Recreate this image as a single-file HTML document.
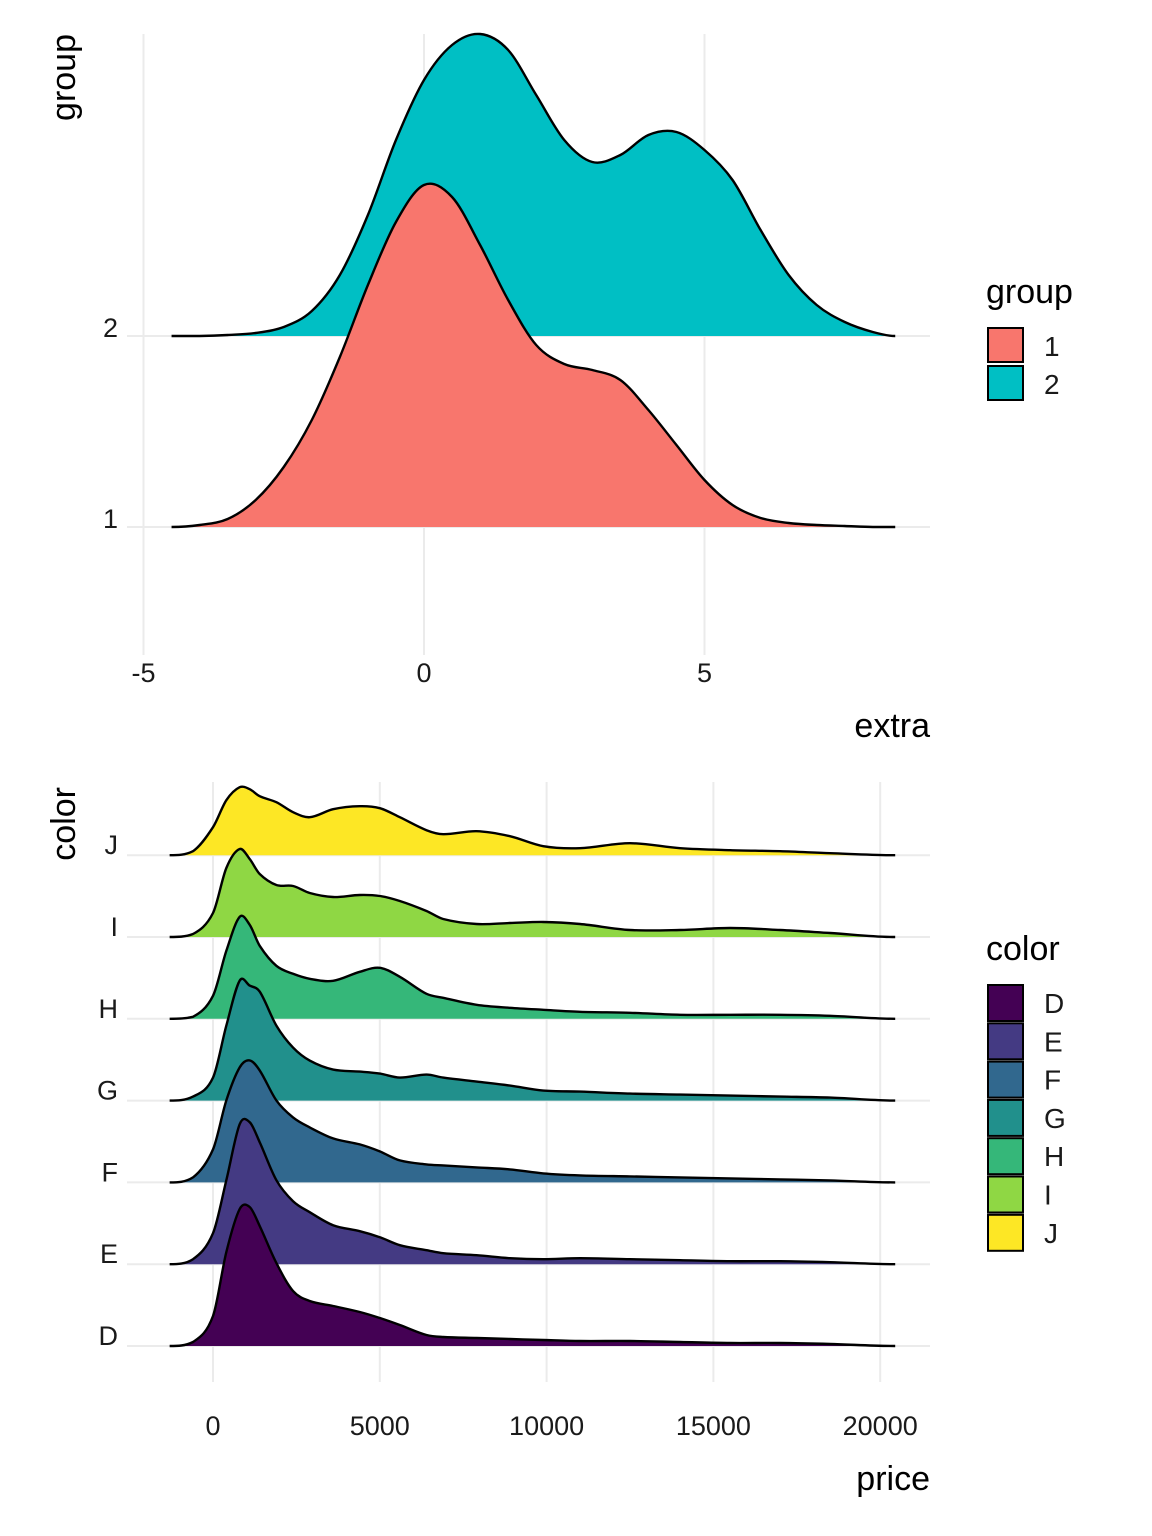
<!DOCTYPE html>
<html><head><meta charset="utf-8"><style>
html,body{margin:0;padding:0;background:#fff;}
svg{display:block;font-family:"Liberation Sans",sans-serif;}
</style></head><body>
<svg id="chart" width="1152" height="1536" viewBox="0 0 1152 1536">
<g id="top"></g>
<g id="bottom"></g>
</svg>
<script>
// ---- top chart data ----
const topGroups = ["1","2"];
const topColors = ["#F8766D","#00BFC4"];
const topX = [-4.5,-4,-3.5,-3,-2.5,-2,-1.5,-1,-0.5,0,0.5,1,1.5,2,2.5,3,3.5,4,4.5,5,5.5,6,6.5,7,7.5,8,8.4];
const topDensity1 = [0,2,8,27,60,107,170,242,305,342,330,282,227,182,163,157,147,117,82,47,22,9,4,2,1,0,0];
const topDensity2 = [0,0,1,3,9,25,61,121,196,256,291,302,286,241,196,174,181,201,204,186,156,106,61,31,14,4,0];
const topXTicks = [-5,0,5];
// ---- bottom chart data ----
const colorCats = ["D","E","F","G","H","I","J"];
const colorFills = ["#440154","#443A83","#31688E","#21908C","#35B779","#8FD744","#FDE725"];
const priceGrid = [-1300,-600,0,400,800,1100,1400,1900,2400,2900,3600,4400,5000,5600,6400,6900,7900,8900,9900,11000,12500,14000,15500,17000,18500,20450];
const densD = [0,4,30,94,137,139,120,83,55,45,40,34,28,21,11,9,8,7,6,5,5,4,3,3,2,0];
const densE = [0,5,31,84,140,142,122,84,63,52,39,33,27,19,14,11,9,6,5,6,5,4,3,3,2,0];
const densF = [0,5,33,82,115,122,112,82,65,55,44,38,31,22,18,17,15,13,9,7,6,5,4,3,2,0];
const densG = [0,4,23,75,120,115,109,75,53,40,31,29,27,23,26,23,19,15,10,9,7,6,5,4,3,0];
const densH = [0,2,23,68,102,94,73,53,45,40,38,47,51,42,25,21,14,11,9,7,6,4,4,4,3,0];
const densI = [0,3,24,69,88,78,63,52,51,44,40,42,41,36,26,18,13,14,15,13,7,7,9,7,4,0];
const densJ = [0,4,28,55,68,66,59,53,43,38,46,49,47,38,25,21,24,19,9,7,12,7,5,4,2,0];
const priceTicks = [0,5000,10000,15000,20000];

const NS="http://www.w3.org/2000/svg";
function mk(parent,tag,attrs,text){const e=document.createElementNS(NS,tag);for(const k in attrs)e.setAttribute(k,attrs[k]);if(text!==undefined)e.textContent=text;parent.appendChild(e);return e;}
// non-uniform Catmull-Rom style tangents, clamped to baseline
function smoothPath(pts,base){
  const n=pts.length,m=[];
  for(let i=0;i<n;i++){
    const a=pts[Math.max(0,i-1)],b=pts[Math.min(n-1,i+1)];
    m[i]=(b[1]-a[1])/(b[0]-a[0]);
  }
  m[0]=0;m[n-1]=0;
  let d="M"+pts[0][0].toFixed(2)+","+pts[0][1].toFixed(2);
  for(let i=0;i<n-1;i++){
    const h=(pts[i+1][0]-pts[i][0])/3;
    const y1=Math.min(base,pts[i][1]+m[i]*h),y2=Math.min(base,pts[i+1][1]-m[i+1]*h);
    d+="C"+(pts[i][0]+h).toFixed(2)+","+y1.toFixed(2)+" "+(pts[i+1][0]-h).toFixed(2)+","+y2.toFixed(2)+" "+pts[i+1][0].toFixed(2)+","+pts[i+1][1].toFixed(2);
  }
  return d;
}
// ---- top panel ----
const T=document.getElementById("top");
const tx=v=>424+v*56.1;
const topBase=[527,336];
topXTicks.forEach(v=>{const l=mk(T,"line",{x1:tx(v),x2:tx(v),y1:34,y2:655,stroke:"#ebebeb","stroke-width":2});

});
topBase.forEach(b=>{const l=mk(T,"line",{x1:127,x2:930,y1:b,y2:b,stroke:"#ebebeb","stroke-width":2});

});
const topSeries=[topDensity1,topDensity2];
[1,0].forEach(gi=>{
  const pts=topX.map((x,i)=>[tx(x),topBase[gi]-topSeries[gi][i]]);
  const line=smoothPath(pts,topBase[gi]);
  const f=mk(T,"path",{d:line+"L"+pts[pts.length-1][0]+","+topBase[gi]+"L"+pts[0][0]+","+topBase[gi]+"Z",fill:topColors[gi],stroke:"none"});
  
  
  const s=mk(T,"path",{d:line,fill:"none",stroke:"#000","stroke-width":2.4});
  
  
});
topXTicks.forEach(v=>{const t=mk(T,"text",{x:tx(v),y:682,"text-anchor":"middle","font-size":27,fill:"#1a1a1a"},String(v));

});
topGroups.forEach((g,i)=>{const t=mk(T,"text",{x:118,y:topBase[i]+1,"text-anchor":"end","font-size":27,fill:"#1a1a1a"},g);

});
let t1=mk(T,"text",{x:930,y:737,"text-anchor":"end","font-size":34,fill:"#000"},"extra");


let t2=mk(T,"text",{x:0,y:0,transform:"translate(75,34) rotate(-90)","text-anchor":"end","font-size":34,fill:"#000"},"group");


let lt=mk(T,"text",{x:986,y:303,"font-size":34,fill:"#000"},"group");


topGroups.forEach((g,i)=>{
  const r=mk(T,"rect",{x:988,y:328+i*38,width:35,height:34,fill:topColors[i],stroke:"#000","stroke-width":2});
  
  
  const t=mk(T,"text",{x:1044,y:356+i*38,"font-size":28,fill:"#1a1a1a"},g);
  
  
});
// ---- bottom panel ----
const B=document.getElementById("bottom");
const px=v=>213+v*0.03336;
const baseY=i=>1346-i*81.8;
priceTicks.forEach(v=>{const l=mk(B,"line",{x1:px(v),x2:px(v),y1:782,y2:1382,stroke:"#ebebeb","stroke-width":2});

});
colorCats.forEach((c,i)=>{const l=mk(B,"line",{x1:127,x2:930,y1:baseY(i),y2:baseY(i),stroke:"#ebebeb","stroke-width":2});

});
const dens=[densD,densE,densF,densG,densH,densI,densJ];
for(let i=colorCats.length-1;i>=0;i--){
  const b=baseY(i);
  const pts=priceGrid.map((p,k)=>[px(p),b-dens[i][k]]);
  const line=smoothPath(pts,b);
  const f=mk(B,"path",{d:line+"L"+pts[pts.length-1][0]+","+b+"L"+pts[0][0]+","+b+"Z",fill:colorFills[i],stroke:"none"});
  
  
  const s=mk(B,"path",{d:line,fill:"none",stroke:"#000","stroke-width":2.4});
  
  
}
priceTicks.forEach(v=>{const t=mk(B,"text",{x:px(v),y:1435,"text-anchor":"middle","font-size":27,fill:"#1a1a1a"},String(v));

});
colorCats.forEach((c,i)=>{const t=mk(B,"text",{x:118,y:baseY(i)-1,"text-anchor":"end","font-size":27,fill:"#1a1a1a"},c);

});
let b1=mk(B,"text",{x:930,y:1490,"text-anchor":"end","font-size":34,fill:"#000"},"price");


let b2=mk(B,"text",{x:0,y:0,transform:"translate(75,787) rotate(-90)","text-anchor":"end","font-size":34,fill:"#000"},"color");


let bl=mk(B,"text",{x:986,y:960,"font-size":34,fill:"#000"},"color");


colorCats.forEach((c,i)=>{
  const r=mk(B,"rect",{x:988,y:985+i*38.3,width:35,height:36,fill:colorFills[i],stroke:"#000","stroke-width":2});
  
  
  const t=mk(B,"text",{x:1044,y:1013+i*38.3,"font-size":28,fill:"#1a1a1a"},c);
  
  
});
</script>
</body></html>
